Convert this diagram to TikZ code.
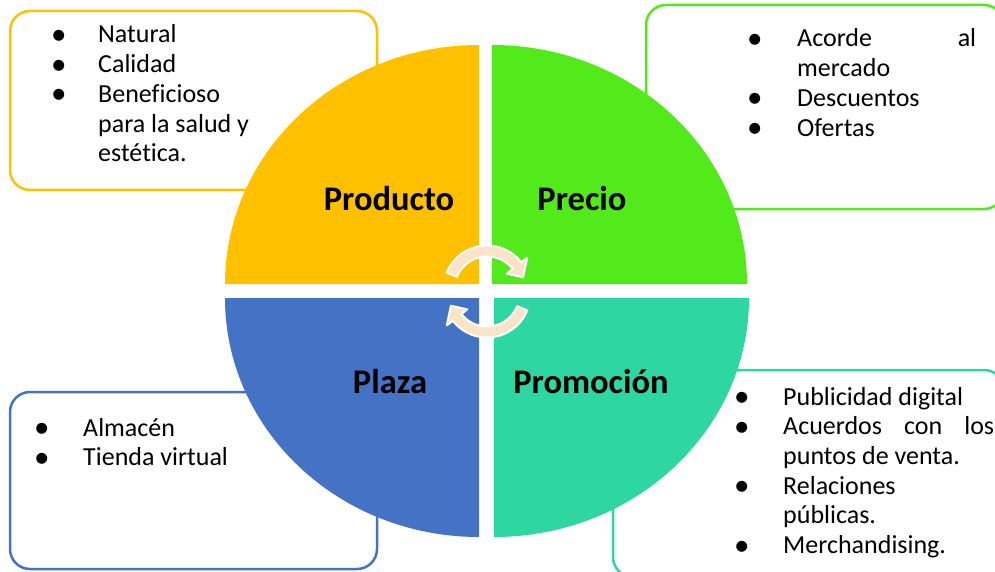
\documentclass[tikz,border=0pt]{standalone}
\usepackage{fontspec}
\setmainfont{Carlito}[Ligatures=NoCommon]
\definecolor{cyel}{HTML}{FFC000}
\definecolor{cgrn}{HTML}{52EA1A}
\definecolor{cblu}{HTML}{4472C4}
\definecolor{cteal}{HTML}{2ED6A1}
\definecolor{cpeach}{HTML}{FBE3C7}
\newcommand{\blt}{\raisebox{-1.5pt}{\fontsize{31}{29.7}\selectfont •}}
\tikzset{
  infobox/.style={draw, line width=2.5pt, rounded corners=20pt, fill=white},
  listtext/.style={inner sep=0pt, anchor=base west, font=\fontsize{26}{29.7}\selectfont},
  quadlabel/.style={inner sep=0pt, anchor=base, font=\fontsize{34.5}{40}\selectfont\bfseries},
  cyclearrow/.style={fill=cpeach, draw=white, line width=2pt, line join=round},
}
\begin{document}
\begin{tikzpicture}[x=1pt,y=1pt]
\useasboundingbox (0,0) rectangle (995,-572);
\begin{scope}
\clip (0,0) rectangle (995,-572);
% info boxes
\draw[infobox, draw=cyel] (10,-11) rectangle (377,-190);
\draw[infobox, draw=cgrn] (646,-5) rectangle (1004,-209);
\draw[infobox, draw=cblu] (10,-392) rectangle (377,-569);
\draw[infobox, draw=cteal] (613,-370) rectangle (1004,-577);
\end{scope}
% quadrants
\fill[cyel] (479,-284) -- (225,-284) arc[start angle=180,end angle=90,x radius=254pt,y radius=239pt] -- cycle;
\fill[cgrn] (492,-284) -- (492,-45) arc[start angle=90,end angle=0,x radius=255pt,y radius=239pt] -- cycle;
\fill[cblu] (479,-298) -- (225,-298) arc[start angle=180,end angle=270,x radius=254pt,y radius=239pt] -- cycle;
\fill[cteal] (494,-298) -- (749,-298) arc[start angle=0,end angle=-90,x radius=255pt,y radius=239pt] -- cycle;
% labels
\node (producto) [quadlabel] at (389,-211) {Producto};
\node (precio) [quadlabel] at (582,-211) {Precio};
\node (plaza) [quadlabel] at (390,-393) {Plaza};
\node (promocion) [quadlabel] at (591,-393) {Promoción};
% cycle arrows
\begin{scope}[shift={(487,-289)}]
\path[cyclearrow] (158:43.5pt) arc[start angle=158,end angle=38,radius=43.5pt]
  -- (38:51pt) -- (18:38pt) -- (38:25pt) -- (38:32.5pt)
  arc[start angle=38,end angle=158,radius=32.5pt] -- cycle;
\end{scope}
\begin{scope}[shift={(487,-294)}]
\path[cyclearrow] (-22:43.5pt) arc[start angle=-22,end angle=-142,radius=43.5pt]
  -- (-142:51pt) -- (-162:38pt) -- (-142:25pt) -- (-142:32.5pt)
  arc[start angle=-142,end angle=-22,radius=32.5pt] -- cycle;
\end{scope}
% lists
\node (tllist) [listtext] at (51,-43) {\begin{tabular}[t]{@{}p{47pt}@{}l@{}}
\blt&Natural\\
\blt&Calidad\\
\blt&Beneficioso\\
&para la salud y\\
&estética.\end{tabular}};
\node (trlist) [listtext] at (747,-47) {\begin{tabular}[t]{@{}p{50pt}@{}l@{}}
\blt&\makebox[179pt][s]{Acorde al}\\
&mercado\\
\blt&Descuentos\\
\blt&Ofertas\end{tabular}};
\node (bllist) [listtext] at (34,-436) {\begin{tabular}[t]{@{}p{49pt}@{}l@{}}
\blt&Almacén\\
\blt&Tienda virtual\end{tabular}};
\node (brlist) [listtext] at (734,-405) {\begin{tabular}[t]{@{}p{49pt}@{}l@{}}
\blt&Publicidad digital\\
\blt&\makebox[211pt][s]{Acuerdos con los}\\
&puntos de venta.\\
\blt&Relaciones\\
&públicas.\\
\blt&Merchandising.\end{tabular}};
\end{tikzpicture}
\end{document}
